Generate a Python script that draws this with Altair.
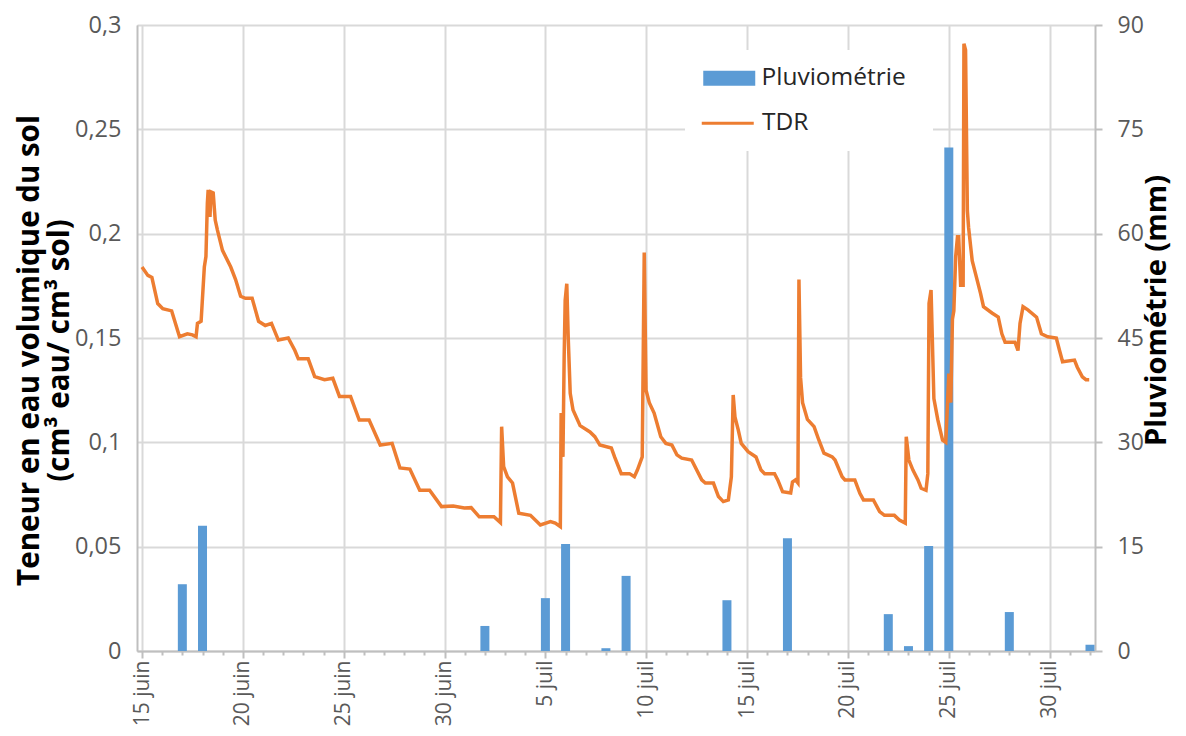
import altair as alt
import pandas as pd
from datetime import datetime, timedelta

# ---------------- data ----------------
rain_dates = ["2015-06-17", "2015-06-18", "2015-07-02", "2015-07-05", "2015-07-06",
              "2015-07-08", "2015-07-09", "2015-07-14", "2015-07-17", "2015-07-22",
              "2015-07-23", "2015-07-24", "2015-07-25", "2015-07-28", "2015-08-01"]
rain_mm = [9.6, 18.0, 3.6, 7.6, 15.4, 0.4, 10.8, 7.3, 16.2, 5.3, 0.7, 15.1, 72.4, 5.6, 0.9]

# TDR: days since 15 June 00:00, and volumetric water content
tdr_day = [0.00, 0.29, 0.49, 0.78, 1.03, 1.47, 1.86, 2.25, 2.50, 2.68, 2.75, 2.93, 3.09, 3.17,
           3.24, 3.28, 3.37, 3.42, 3.53, 3.63, 3.74, 3.99, 4.40, 4.64, 4.89, 5.13, 5.46, 5.78,
           6.11, 6.42, 6.76, 7.25, 7.58, 7.75, 8.24, 8.56, 9.05, 9.46, 9.79, 10.34, 10.77,
           11.26, 11.81, 12.40, 12.79, 13.28, 13.77, 14.26, 14.85, 15.43, 15.98, 16.32, 16.72,
           17.45, 17.77, 17.83, 17.93, 18.12, 18.37, 18.68, 19.26, 19.75, 20.25, 20.49, 20.74,
           20.78, 20.87, 20.93, 20.98, 21.06, 21.13, 21.23, 21.37, 21.72, 22.21, 22.45, 22.70,
           23.27, 23.43, 23.76, 24.17, 24.41, 24.56, 24.80, 24.90, 24.99, 25.15, 25.39, 25.72,
           25.97, 26.27, 26.52, 26.76, 27.25, 27.75, 27.93, 28.33, 28.58, 28.82, 29.07, 29.22,
           29.31, 29.40, 29.56, 29.71, 30.05, 30.44, 30.69, 30.87, 31.36, 31.52, 31.76, 32.16,
           32.25, 32.40, 32.52, 32.57, 32.65, 32.75, 32.99, 33.32, 33.56, 33.81, 34.22, 34.36,
           34.71, 34.85, 35.34, 35.59, 35.77, 36.26, 36.57, 36.81, 37.30, 37.55, 37.84, 37.89,
           38.02, 38.22, 38.47, 38.63, 38.87, 38.96, 39.02, 39.12, 39.26, 39.45, 39.69, 39.85,
           40.00, 40.10, 40.18, 40.25, 40.34, 40.43, 40.49, 40.59, 40.67, 40.71, 40.75, 40.83,
           40.92, 40.98, 41.16, 41.32, 41.57, 41.72, 42.14, 42.45, 42.63, 42.79, 43.28, 43.43,
           43.53, 43.68, 43.92, 44.35, 44.59, 44.90, 45.33, 45.49, 45.64, 46.23, 46.37, 46.62,
           46.80, 46.96]
tdr_value = [0.184, 0.180, 0.179, 0.1665, 0.164, 0.163, 0.1506, 0.152, 0.1515, 0.1506, 0.157,
             0.158, 0.184, 0.189, 0.2146, 0.221, 0.208, 0.220, 0.2195, 0.2065, 0.2017, 0.192,
             0.184, 0.178, 0.170, 0.169, 0.169, 0.158, 0.156, 0.157, 0.149, 0.150, 0.144, 0.140,
             0.140, 0.1315, 0.130, 0.1307, 0.122, 0.122, 0.1107, 0.1107, 0.0987, 0.0995, 0.0877,
             0.0872, 0.077, 0.077, 0.0692, 0.0695, 0.0685, 0.0687, 0.0643, 0.0643, 0.0615,
             0.1075, 0.0883, 0.0835, 0.0805, 0.066, 0.065, 0.0604, 0.062, 0.0613, 0.0596, 0.114,
             0.093, 0.141, 0.168, 0.176, 0.1506, 0.1235, 0.1155, 0.108, 0.105, 0.1027, 0.0987,
             0.0973, 0.093, 0.085, 0.085, 0.0835, 0.0867, 0.093, 0.191, 0.125, 0.119, 0.114,
             0.1027, 0.0995, 0.0987, 0.094, 0.0924, 0.0915, 0.082, 0.0805, 0.0805, 0.074, 0.0716,
             0.0724, 0.0835, 0.1227, 0.112, 0.106, 0.0995, 0.0955, 0.093, 0.0867, 0.085, 0.085,
             0.082, 0.0763, 0.0757, 0.081, 0.082, 0.0805, 0.178, 0.131, 0.119, 0.111, 0.1075,
             0.101, 0.0948, 0.093, 0.0915, 0.0835, 0.082, 0.082, 0.0756, 0.0724, 0.0724, 0.0668,
             0.065, 0.065, 0.0628, 0.0613, 0.1027, 0.0915, 0.0867, 0.082, 0.078, 0.077, 0.085,
             0.1666, 0.173, 0.121, 0.111, 0.101, 0.100, 0.133, 0.119, 0.159, 0.163, 0.189,
             0.1985, 0.1985, 0.1745, 0.187, 0.1745, 0.291, 0.288, 0.211, 0.203, 0.187, 0.181,
             0.1715, 0.165, 0.162, 0.160, 0.152, 0.148, 0.148, 0.144, 0.157, 0.165, 0.1635,
             0.160, 0.152, 0.1506, 0.150, 0.144, 0.1386, 0.1394, 0.136, 0.1314, 0.130, 0.130]

left_ticks = [0, 0.05, 0.1, 0.15, 0.2, 0.25, 0.3]
right_ticks = [0, 15, 30, 45, 60, 75, 90]

# ---------------- frames ----------------
start = datetime(2015, 6, 15)
rain_df = pd.DataFrame({
    "date": [d + "T00:00:00" for d in rain_dates],
    "mm": rain_mm,
    "series": "Pluviométrie",
})
tdr_df = pd.DataFrame({
    "date": [(start + timedelta(days=d)).strftime("%Y-%m-%dT%H:%M:%S") for d in tdr_day],
    "teneur": tdr_value,
    "series": "TDR",
})

FONT = "Open Sans"
LABEL_COLOR = "#595959"
GRID = "#d9d9d9"
AXIS_LINE = "#bfbfbf"

day_values = [alt.DateTime(year=(start + timedelta(days=i)).year,
                           month=(start + timedelta(days=i)).month,
                           date=(start + timedelta(days=i)).day) for i in range(48)]
major = "date(datum.value) % 5 == 0"

x_enc = alt.X(
    "date:T",
    scale=alt.Scale(domain=[alt.DateTime(year=2015, month=6, date=15),
                            alt.DateTime(year=2015, month=8, date=1)]),
    axis=alt.Axis(
        orient="bottom", values=day_values, title=None,
        labelExpr=major + " ? date(datum.value) + (month(datum.value) == 5 ? ' juin' : ' juil') : ''",
        labelAngle=270, labelAlign="right", labelBaseline="middle", labelPadding=2,
        labelFont=FONT, labelFontSize=21, labelColor=LABEL_COLOR,
        labelOverlap=False, labelFlush=False,
        grid=True, gridColor=GRID, gridWidth=2,
        gridOpacity={"condition": {"test": major, "value": 1}, "value": 0},
        domainColor=AXIS_LINE, domainWidth=2,
        tickColor=AXIS_LINE, tickWidth=2,
        tickSize={"condition": {"test": major, "value": 7}, "value": 4},
    ),
)

bars = alt.Chart(rain_df).mark_bar(size=9, clip=True).encode(
    x=x_enc,
    y=alt.Y("mm:Q", scale=alt.Scale(domain=[0, 90], nice=False),
            axis=alt.Axis(orient="right", values=right_ticks, grid=False,
                          domainColor=AXIS_LINE, domainWidth=2,
                          tickColor=AXIS_LINE, tickWidth=2, tickSize=7,
                          labelPadding=15, labelFont=FONT, labelFontSize=23,
                          labelColor=LABEL_COLOR,
                          title="Pluviométrie (mm)", titleFont=FONT, titleFontSize=29,
                          titleFontWeight="bold", titleColor="#000000",
                          titleAngle=270, titleBaseline="middle", titleAlign="center",
                          titleX=61, titleY=285)),
    fill=alt.Fill("series:N", scale=alt.Scale(domain=["Pluviométrie"], range=["#5b9bd5"]),
                  legend=alt.Legend(orient="none", legendX=548, legendY=25, title=None,
                                    fillColor="white", padding=16,
                                    symbolType="M-2.6,-0.75H2.6V0.75H-2.6Z", symbolSize=400,
                                    symbolStrokeWidth=0, symbolOffset=16, labelOffset=20,
                                    labelFont=FONT, labelFontSize=24.5, labelColor="#262626")),
)

pad = "\u2800" * 6
line = alt.Chart(tdr_df).mark_line(strokeWidth=3.5, clip=True).encode(
    x=x_enc,
    y=alt.Y("teneur:Q", scale=alt.Scale(domain=[0, 0.3], nice=False),
            axis=alt.Axis(orient="left", values=left_ticks,
                          labelExpr="replace(format(datum.value, '.2~f'), '.', ',')",
                          grid=True, gridColor=GRID, gridWidth=2,
                          domainColor=AXIS_LINE, domainWidth=2, ticks=False,
                          labelPadding=16, labelFont=FONT, labelFontSize=23.5,
                          labelColor=LABEL_COLOR,
                          title=["Teneur en eau volumique  du sol", "(cm³  eau/ cm³ sol)"],
                          titleFont=FONT, titleFontSize=29.5, titleFontWeight="bold",
                          titleColor="#000000", titleAngle=270, titleBaseline="middle",
                          titleAlign="center", titleLineHeight=30,
                          titleX=-108, titleY=325)),
    stroke=alt.Stroke("series:N", scale=alt.Scale(domain=["TDR"], range=["#ed7d31"]),
                      legend=alt.Legend(orient="none", legendX=548, legendY=70, title=None,
                                        fillColor="white", padding=16,
                                        symbolType="M-2.6,0H2.6", symbolSize=400,
                                        symbolStrokeWidth=3, symbolOffset=14.5, labelOffset=22,
                                        labelExpr="datum.label + '" + pad + "'",
                                        labelFont=FONT, labelFontSize=24.5, labelColor="#262626")),
)

chart = alt.layer(bars, line).resolve_scale(y="independent").properties(
    width=958, height=626,
    padding={"left": 129, "top": 17, "right": 82, "bottom": 77},
    autosize=alt.AutoSizeParams(type="none"),
).configure_view(stroke=None).configure(background="white")

chart.save("out.html", embed_options={"renderer": "svg", "actions": False})
